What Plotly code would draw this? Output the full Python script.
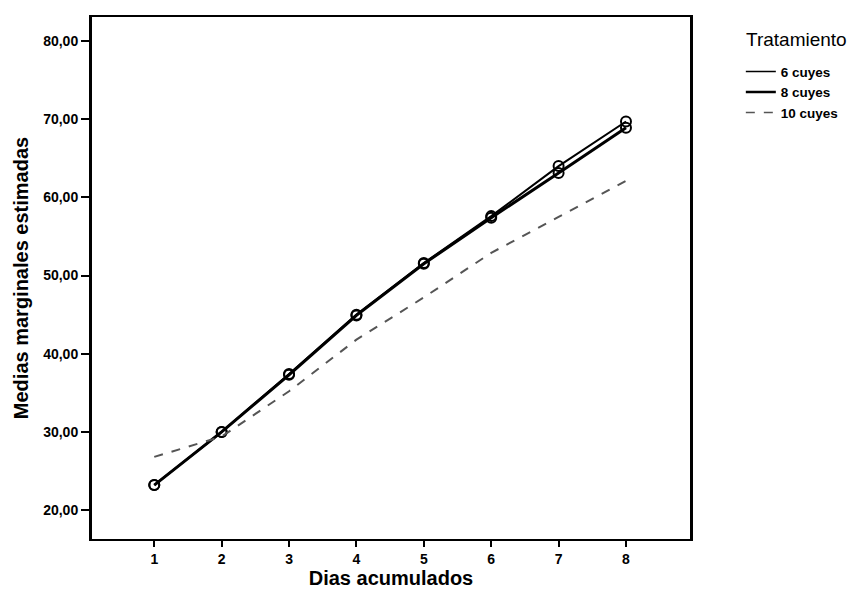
import plotly.graph_objects as go

dias = [1, 2, 3, 4, 5, 6, 7, 8]
cuyes6 = [23.2, 30.0, 37.4, 45.0, 51.6, 57.6, 64.0, 69.7]
cuyes8 = [23.2, 30.0, 37.3, 44.9, 51.5, 57.4, 63.1, 68.9]
cuyes10 = [26.8, 29.4, 35.2, 41.8, 47.2, 52.9, 57.5, 62.1]

series_names = ["6 cuyes", "8 cuyes", "10 cuyes"]
y_ticks = [20, 30, 40, 50, 60, 70, 80]
y_ticktext = ["20,00", "30,00", "40,00", "50,00", "60,00", "70,00", "80,00"]
x_ticktext = ["1", "2", "3", "4", "5", "6", "7", "8"]

FONT = "Liberation Sans, Arial, sans-serif"

styles = [
    dict(color="black", width=2, dash="solid"),
    dict(color="black", width=3, dash="solid"),
    dict(color="#555555", width=2, dash="dash"),
]

fig = go.Figure()
for name, vals, st, mk in zip(series_names, [cuyes6, cuyes8, cuyes10], styles, [True, True, False]):
    fig.add_trace(go.Scatter(
        x=dias, y=vals, name=name, mode="lines+markers" if mk else "lines",
        line=st, showlegend=False,
        marker=dict(symbol="circle-open", size=10, color="black", line=dict(width=2)),
    ))
# legend entries (line samples only)
for name, st in zip(series_names, styles):
    fig.add_trace(go.Scatter(
        x=[None], y=[None], name=name, mode="lines",
        line=dict(color=st["color"], width=st["width"] - 0.5, dash=st["dash"]),
    ))

fig.update_layout(
    width=849, height=600,
    margin=dict(l=84, r=167, t=9, b=69),
    paper_bgcolor="white", plot_bgcolor="white",
    font=dict(family=FONT, color="black"),
    showlegend=True,
    legend=dict(
        x=1.085, y=0.925, xanchor="left", yanchor="top",
        font=dict(size=13.5, family=FONT, weight="bold"),
        itemwidth=30, tracegroupgap=0,
        bgcolor="rgba(0,0,0,0)",
    ),
    annotations=[dict(
        text="Tratamiento", xref="paper", yref="paper",
        x=1.090, y=0.956,
        xanchor="left", yanchor="middle", showarrow=False,
        font=dict(size=19, family=FONT, color="black"),
    )],
    xaxis=dict(
        range=[0.076, 8.95], automargin=False,
        tickmode="array", tickvals=dias, ticktext=x_ticktext,
        ticks="outside", ticklen=6, tickwidth=2, tickcolor="black",
        showline=True, linewidth=2, linecolor="black", mirror=True,
        showgrid=False, zeroline=False,
        tickfont=dict(size=14, family=FONT, weight="bold"),
        title=dict(text="Dias acumulados", standoff=1,
                   font=dict(size=20, family=FONT, weight="bold")),
    ),
    yaxis=dict(
        range=[16.3, 83.07], automargin=False,
        tickmode="array", tickvals=y_ticks, ticktext=y_ticktext,
        ticks="outside", ticklen=8, tickwidth=2, tickcolor="black",
        showline=True, linewidth=3, linecolor="black", mirror=True,
        showgrid=False, zeroline=False,
        tickfont=dict(size=14, family=FONT, weight="bold"),
        title=dict(text="Medias marginales estimadas", standoff=10,
                   font=dict(size=20, family=FONT, weight="bold")),
    ),
)

fig.write_html("out.html")
